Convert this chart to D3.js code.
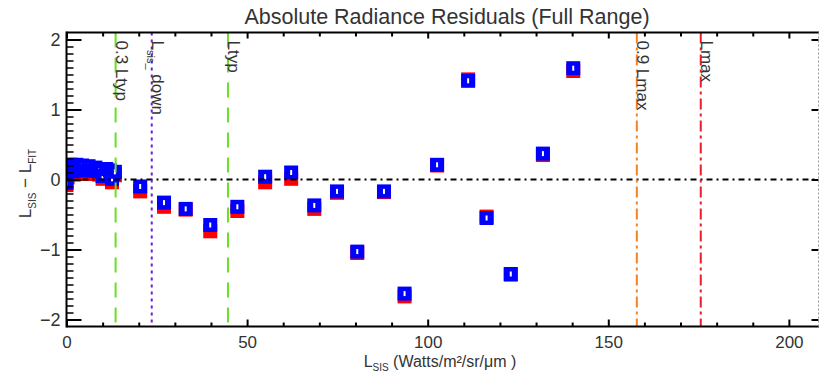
<!DOCTYPE html>
<html>
<head>
<meta charset="utf-8">
<script src="https://cdn.jsdelivr.net/npm/d3@7"></script>
<style>
  html, body { margin: 0; padding: 0; background: #fff; }
  svg { display: block; }
  text { font-family: "Liberation Sans", Arial, Helvetica, sans-serif; fill: #333; }
</style>
</head>
<body>
<svg id="chart" width="819" height="375"></svg>
<script>
// Radiance levels (Watts/m²/sr/µm) of each measurement
const radiance = [0, 0.3, 0.8, 1.4, 2.0, 2.7, 3.5, 4.3, 5.2, 6.1, 7.0, 8.0, 9.0, 10.0, 11.0, 12.0, 12.6, 13.4,
                  20.4, 27.0, 33.0, 39.8, 47.3, 55.0, 62.2, 68.6, 74.9, 80.5, 87.9, 93.6,
                  102.6, 111.2, 116.3, 123.0, 131.9, 140.3];
// Residuals L_SIS - L_FIT, first fit (blue)
const residualBlue = [-0.05, 0.07, 0.21, 0.21, 0.12, 0.21, 0.14, 0.20, 0.13, 0.19, 0.13, 0.17, 0.12, 0.05, 0.15, 0.13, 0.01, 0.11,
                      -0.10, -0.33, -0.42, -0.65, -0.39, 0.04, 0.10, -0.37, -0.17, -1.03, -0.17, -1.63,
                      0.21, 1.41, -0.55, -1.35, 0.37, 1.59];
// Residuals L_SIS - L_FIT, second fit (red)
const residualRed = [-0.08, 0.03, 0.16, 0.16, 0.07, 0.16, 0.09, 0.15, 0.08, 0.14, 0.08, 0.12, 0.07, 0.01, 0.10, 0.08, -0.04, 0.06,
                     -0.17, -0.39, -0.43, -0.74, -0.45, -0.04, 0.01, -0.42, -0.19, -1.05, -0.18, -1.67,
                     0.20, 1.43, -0.53, -1.36, 0.35, 1.55];

// Reference radiance levels marked with vertical lines
const refNames  = ["0.3 Ltyp", "L_{sis_} down", "Ltyp", "0.9 Lmax", "Lmax"];
const refValues = [13.6, 23.6, 44.7, 157.9, 175.6];

const xTickValues = [0, 50, 100, 150, 200];
const yTickValues = [-2, -1, 0, 1, 2];

// ---- styling ----
const refStyle = {
  "0.3 Ltyp":      { color: "#66e020", dash: "15,10" },
  "L_{sis_} down": { color: "#6a1fd8", dash: "3,4" },
  "Ltyp":          { color: "#66e020", dash: "15,10" },
  "0.9 Lmax":      { color: "#f5821f", dash: "11,4,3,4" },
  "Lmax":          { color: "#ea1c2c", dash: "11,4,3,4" }
};

const svg = d3.select("#chart");
const W = 819, H = 375;
svg.append("rect").attr("width", W).attr("height", H).attr("fill", "#fff");

const x = d3.scaleLinear().domain([0, 208.2]).range([66.5, 818.5]);
const y = d3.scaleLinear().domain([-2.1, 2.1]).range([326.5, 32.5]);
const [x0, x1] = x.range();
const [y0, y1] = [y.range()[1], y.range()[0]];

svg.append("clipPath").attr("id", "plotClip")
  .append("rect").attr("x", x0).attr("y", y0).attr("width", x1 - x0).attr("height", y1 - y0);

const plot = svg.append("g").attr("clip-path", "url(#plotClip)");

const pts = radiance.map((r, i) => ({ r, b: residualBlue[i], d: residualRed[i] }));
const S = 14;

// red markers underneath
plot.append("g").selectAll("rect").data(pts).join("rect")
  .attr("x", p => x(p.r) - S / 2).attr("y", p => y(p.d) - S / 2)
  .attr("width", S).attr("height", S).attr("fill", "#ff0000");

// blue markers with a small white core
const blue = plot.append("g").selectAll("g").data(pts).join("g")
  .attr("transform", p => `translate(${x(p.r)},${y(p.b)})`);
blue.append("rect").attr("x", -S / 2).attr("y", -S / 2).attr("width", S).attr("height", S).attr("fill", "#0000ff");
blue.append("rect").attr("x", -1).attr("y", -2.5).attr("width", 2).attr("height", 5).attr("fill", "#fff");

// zero line
plot.append("line")
  .attr("x1", x0).attr("x2", x1).attr("y1", y(0)).attr("y2", y(0))
  .attr("stroke", "#000").attr("stroke-width", 2).attr("stroke-dasharray", "6,4,2,4");

// reference lines
refNames.forEach((name, i) => {
  const st = refStyle[name];
  const xv = x(refValues[i]);
  plot.append("line")
    .attr("x1", xv).attr("x2", xv).attr("y1", y0).attr("y2", y1)
    .attr("stroke", st.color).attr("stroke-width", 2).attr("stroke-dasharray", st.dash);
});

// rich text helper: "_{...}" becomes a subscript
function richText(sel, str, size, subSize) {
  const parts = str.split(/_\{([^}]*)\}/);
  let shift = 0;
  parts.forEach((p, k) => {
    if (p === "") return;
    const isSub = k % 2 === 1;
    const want = isSub ? Math.round(size * 0.28) : 0;
    sel.append("tspan")
      .attr("font-size", isSub ? subSize : size)
      .attr("dy", want - shift)
      .text(p);
    shift = want;
  });
}

// reference line labels
refNames.forEach((name, i) => {
  const xv = x(refValues[i]);
  const t = svg.append("text")
    .attr("transform", `translate(${xv + 0.5},${y0 + 8}) rotate(90)`)
    .attr("text-anchor", "start");
  richText(t, name, 17, 11);
});

// ---- axes ----
const axisStyle = g => {
  g.select(".domain").remove();
  g.selectAll(".tick line").attr("stroke", "#000").attr("stroke-width", 2);
};

const xMinor = d3.range(0, 208, 10).filter(v => v % 50 !== 0);
const yMinor = d3.range(-20, 21, 1).map(v => v / 10).filter(v => Math.abs(v % 1) > 1e-9);

// bottom
svg.append("g").attr("transform", `translate(0,${y1})`)
  .call(d3.axisBottom(x).tickValues(xTickValues).tickSize(-7).tickSizeOuter(0).tickPadding(9).tickFormat(d3.format("d")))
  .call(axisStyle)
  .call(g => g.selectAll("text").attr("font-size", 17).attr("fill", "#333"));
svg.append("g").attr("transform", `translate(0,${y1})`)
  .call(d3.axisBottom(x).tickValues(xMinor).tickSize(-4).tickSizeOuter(0).tickFormat(""))
  .call(axisStyle);
// top
svg.append("g").attr("transform", `translate(0,${y0})`)
  .call(d3.axisTop(x).tickValues(xTickValues).tickSize(-6).tickSizeOuter(0).tickFormat(""))
  .call(axisStyle);
svg.append("g").attr("transform", `translate(0,${y0})`)
  .call(d3.axisTop(x).tickValues(xMinor).tickSize(-4).tickSizeOuter(0).tickFormat(""))
  .call(axisStyle);
// left
svg.append("g").attr("transform", `translate(${x0},0)`)
  .call(d3.axisLeft(y).tickValues(yTickValues).tickSize(-15).tickSizeOuter(0).tickPadding(6).tickFormat(d3.format("d")))
  .call(axisStyle)
  .call(g => g.selectAll("text").attr("font-size", 18).attr("fill", "#333"));
svg.append("g").attr("transform", `translate(${x0},0)`)
  .call(d3.axisLeft(y).tickValues(yMinor).tickSize(-7).tickSizeOuter(0).tickFormat(""))
  .call(axisStyle)
  .call(g => g.selectAll(".tick line").attr("stroke-width", 1.5));
// right
svg.append("g").attr("transform", `translate(${x1},0)`)
  .call(d3.axisRight(y).tickValues(yTickValues).tickSize(-7).tickSizeOuter(0).tickFormat(""))
  .call(axisStyle);

// frame
const frame = svg.append("g").attr("stroke", "#000").attr("stroke-width", 2).attr("fill", "none");
frame.append("line").attr("x1", x0).attr("x2", x0).attr("y1", y0 - 1).attr("y2", y1 + 1);
frame.append("line").attr("x1", x0).attr("x2", W).attr("y1", y0).attr("y2", y0);
frame.append("line").attr("x1", x0).attr("x2", W).attr("y1", y1).attr("y2", y1);
frame.append("line").attr("x1", x1).attr("x2", x1).attr("y1", y0).attr("y2", y1)
  .attr("stroke", "#999").attr("stroke-width", 1).attr("stroke-dasharray", "2,2");

// title
svg.append("text")
  .attr("x", 447).attr("y", 24).attr("text-anchor", "middle")
  .attr("font-size", 21.5)
  .text("Absolute Radiance Residuals (Full Range)");

// x label
const xl = svg.append("text")
  .attr("x", 440).attr("y", 367).attr("text-anchor", "middle");
richText(xl, "L_{SIS} (Watts/m²/sr/μm )", 16, 10);

// y label
const yl = svg.append("text")
  .attr("transform", `translate(31,${y(0) + 4}) rotate(-90)`)
  .attr("text-anchor", "middle");
richText(yl, "L_{SIS} − L_{FIT}", 17, 10);
</script>
</body>
</html>
